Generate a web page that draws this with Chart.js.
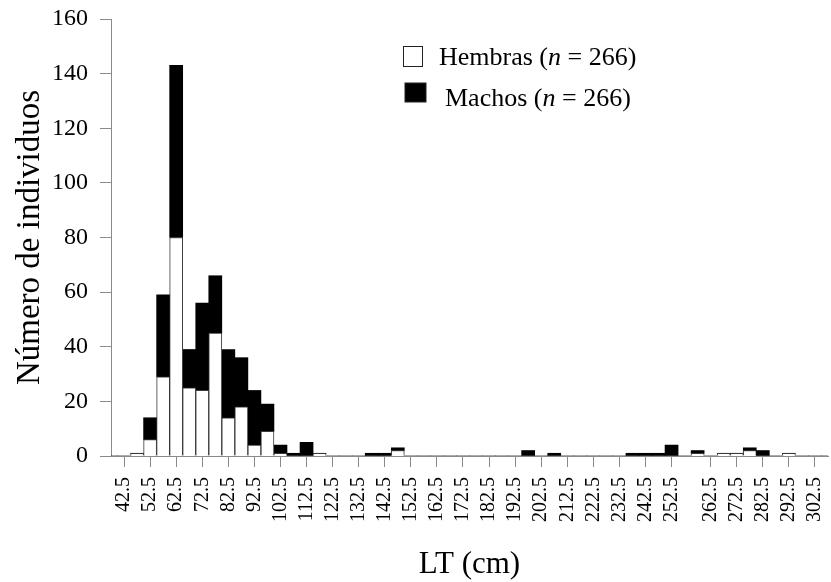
<!DOCTYPE html>
<html>
<head>
<meta charset="utf-8">
<script src="https://cdn.jsdelivr.net/npm/chart.js@4.4.1/dist/chart.umd.min.js"></script>
<style>
  html, body { margin: 0; padding: 0; background: #ffffff; }
  #wrap { width: 831px; height: 582px; position: relative; }
</style>
</head>
<body>
<div id="wrap"><canvas id="c"></canvas></div>
<script>
// Bin centres of LT (cm); the '' entry is the blank bin that appears in the original axis
const categories = ['37.5','42.5','47.5','52.5','57.5','62.5','67.5','72.5','77.5','82.5',
  '87.5','92.5','97.5','102.5','107.5','112.5','117.5','122.5','127.5','132.5',
  '137.5','142.5','147.5','152.5','157.5','162.5','167.5','172.5','177.5','182.5',
  '187.5','192.5','197.5','202.5','207.5','212.5','217.5','222.5','227.5','232.5',
  '237.5','242.5','247.5','252.5','','257.5','262.5','267.5','272.5','277.5',
  '282.5','287.5','292.5','297.5','302.5','307.5'];

// Labelled tick positions on the x axis
const tickLabels = ['42.5','52.5','62.5','72.5','82.5','92.5','102.5','112.5','122.5','132.5',
  '142.5','152.5','162.5','172.5','182.5','192.5','202.5','212.5','222.5','232.5',
  '242.5','252.5','262.5','272.5','282.5','292.5','302.5'];

// Hembras (white)
const hembras = [0,0,1,6,29,80,25,24,45,14,
  18,4,9,1,0,0,1,0,0,0,
  0,0,2,0,0,0,0,0,0,0,
  0,0,0,0,0,0,0,0,0,0,
  0,0,0,0,0,1,0,1,1,2,
  0,0,1,0,0,0];

// Machos (black)
const machos = [0,0,0,8,30,63,14,32,21,25,
  18,20,10,3,1,5,0,0,0,0,
  1,1,1,0,0,0,0,0,0,0,
  0,0,2,0,1,0,0,0,0,0,
  1,1,1,4,0,1,0,0,0,1,
  2,0,0,0,0,0];

const yMax = 160;
const FONT = "'Liberation Serif', 'Times New Roman', serif";
const AXIS = '#8a8a8a';

const legendPlugin = {
  id: 'customLegend',
  afterDraw(chart) {
    const ctx = chart.ctx;
    ctx.save();
    const items = [
      { fill: '#ffffff', box: [403.5, 46.5, 19, 20], x: 439, y: 64.5, name: 'Hembras (' },
      { fill: '#000000', box: [405, 83, 21, 19], x: 445, y: 105.5, name: 'Machos (' }
    ];
    items.forEach(it => {
      ctx.fillStyle = it.fill;
      ctx.fillRect(it.box[0], it.box[1], it.box[2], it.box[3]);
      ctx.strokeStyle = '#222';
      ctx.lineWidth = 1;
      ctx.strokeRect(it.box[0], it.box[1], it.box[2], it.box[3]);
      ctx.fillStyle = '#000';
      ctx.textBaseline = 'alphabetic';
      ctx.textAlign = 'left';
      let x = it.x;
      ctx.font = '26px ' + FONT;
      ctx.fillText(it.name, x, it.y);
      x += ctx.measureText(it.name).width;
      ctx.font = 'italic 26px ' + FONT;
      ctx.fillText('n', x, it.y);
      x += ctx.measureText('n').width;
      ctx.font = '26px ' + FONT;
      ctx.fillText(' = 266)', x, it.y);
    });
    ctx.restore();
  }
};

new Chart(document.getElementById('c'), {
  type: 'bar',
  data: {
    labels: categories,
    datasets: [
      {
        label: 'Hembras (n = 266)',
        data: hembras,
        backgroundColor: '#ffffff',
        borderColor: '#3a3a3a',
        borderWidth: 1,
        borderSkipped: 'start',
        categoryPercentage: 1,
        barPercentage: 1,
        stack: 's'
      },
      {
        label: 'Machos (n = 266)',
        data: machos,
        backgroundColor: '#000000',
        borderColor: '#000000',
        borderWidth: 0,
        categoryPercentage: 1,
        barPercentage: 1,
        stack: 's'
      }
    ]
  },
  options: {
    responsive: true,
    maintainAspectRatio: false,
    animation: false,
    layout: { padding: { top: 19, right: 3, bottom: 0, left: 0 } },
    plugins: { legend: { display: false }, tooltip: { enabled: false } },
    scales: {
      x: {
        stacked: true,
        offset: false,
        grid: {
          offset: false,
          drawOnChartArea: false,
          drawTicks: true,
          tickLength: 11,
          tickColor: (c) => tickLabels.includes(categories[c.index]) ? AXIS : 'rgba(0,0,0,0)'
        },
        border: { color: AXIS, width: 1 },
        ticks: {
          autoSkip: false,
          minRotation: 90,
          maxRotation: 90,
          padding: 10,
          color: '#000',
          font: { family: FONT, size: 20 },
          callback: (v, i) => tickLabels.includes(categories[i]) ? categories[i] : ''
        },
        title: {
          display: true,
          text: 'LT (cm)',
          color: '#000',
          font: { family: FONT, size: 31, lineHeight: 1 },
          padding: { top: 0, bottom: 2 }
        },
        afterFit: (s) => { s.height = 126; s.paddingLeft = 0; s.paddingRight = 0; }
      },
      y: {
        stacked: true,
        min: 0,
        max: yMax,
        grid: {
          drawOnChartArea: false,
          drawTicks: true,
          tickLength: 11,
          tickColor: AXIS
        },
        border: { color: AXIS, width: 1 },
        ticks: {
          stepSize: 10,
          padding: 12,
          color: '#000',
          font: { family: FONT, size: 24 },
          callback: (v) => (v % 20 === 0 ? v : '')
        },
        title: {
          display: true,
          text: 'Número de individuos',
          color: '#000',
          font: { family: FONT, size: 33, lineHeight: 1 },
          padding: { top: 14, bottom: 0 }
        },
        afterFit: (s) => { s.width = 111; s.paddingTop = 0; s.paddingBottom = 0; }
      }
    }
  },
  plugins: [legendPlugin]
});
</script>
</body>
</html>
